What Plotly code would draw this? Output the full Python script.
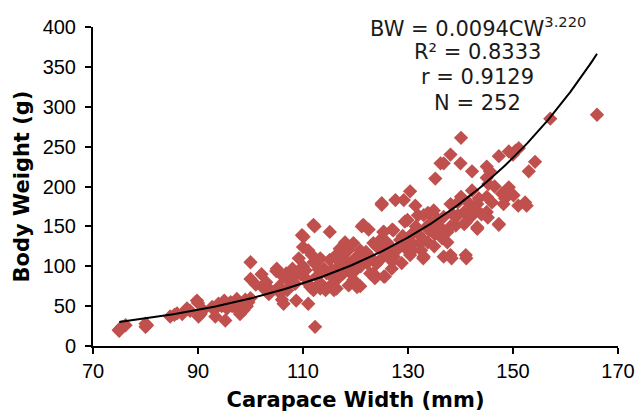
import numpy as np
import plotly.graph_objects as go

# Carapace width (mm) and body weight (g)
CW = [75.0, 75.2, 75.5, 76.2, 74.9, 80.0, 80.0, 80.3, 84.7, 85.5, 86.0, 87.0, 87.9, 88.5,
      89.8, 90.0, 90.1, 90.5, 91.0, 92.7, 93.1, 93.3, 93.9, 94.5, 95.0, 95.2, 95.5, 96.2,
      96.5, 97.4, 97.4, 97.8, 98.2, 98.7, 99.0, 99.3, 99.6, 100.0, 98.0,
      100.0, 100.0, 101.0, 102.1, 102.4, 103.0, 103.8, 103.5,
      104.9, 105.0, 105.7, 106.2, 106.3, 106.0, 106.8, 105.5, 107.5, 107.0, 108.0, 108.5,
      108.7, 109.2, 109.8, 110.0, 110.1, 110.0, 110.5, 110.8, 111.0, 111.4, 111.7, 112.0,
      112.2, 112.3, 112.6, 112.0, 113.3, 113.3, 113.3, 114.3, 114.5, 114.9, 115.1, 115.1,
      115.1, 115.9, 116.4, 116.4, 116.8, 117.7, 117.7, 117.7, 118.4, 118.6, 118.7, 118.7,
      119.6, 119.6, 119.6, 119.9, 120.3, 120.9, 120.9, 121.2, 121.5, 122.2, 122.5, 122.5,
      122.8, 123.4, 123.4, 123.7, 124.7, 124.7, 125.0, 125.0, 125.0, 125.3, 125.4, 125.4,
      125.6, 126.6, 126.9, 127.0, 127.2, 127.3, 127.5, 128.5, 128.8, 128.8, 129.2, 129.4,
      129.9, 129.9, 130.4, 130.4, 130.7, 130.7, 131.0, 131.4, 131.9, 132.3, 132.9, 133.0,
      133.0, 133.6, 133.8, 133.8, 134.9, 135.1, 135.2, 135.4, 135.7, 136.2, 136.8, 136.8,
      136.8, 137.0, 137.5, 138.1, 138.1, 138.1, 138.1, 138.3, 139.1, 139.1, 139.5, 140.0,
      140.1, 140.1, 140.7, 140.7, 141.0, 141.0, 141.1, 142.2, 142.2, 142.5, 142.7, 143.2,
      143.2, 143.2, 145.0, 145.0, 145.0, 145.0, 145.2, 145.3, 145.6, 147.3, 147.3, 147.3,
      147.9, 148.2, 149.2, 149.2, 150.1, 151.0, 151.1, 152.3, 152.6, 153.0, 154.2, 157.1,
      166.0,
      114.0, 115.5, 116.0, 117.0, 118.0, 119.0, 120.0, 121.0, 121.5, 122.0, 123.0, 124.0,
      124.0, 126.0, 126.0, 127.0, 128.0, 129.0, 130.0, 131.0, 131.5, 132.0, 132.5, 133.0,
      134.0, 134.5, 135.0, 136.0, 136.5, 137.5, 138.5, 139.5, 141.5, 142.0, 143.5, 144.0,
      146.0, 146.5, 148.5, 150.0, 150.5, 113.0, 112.0, 111.0, 109.5, 108.0, 107.0, 116.0,
      117.0, 118.0, 111.0, 127.6]
BW = [19, 22, 24, 26, 20, 24, 28, 26, 37, 39, 41, 40, 47, 44,
      57, 54, 37, 40, 45, 49, 45, 37, 53, 50, 57, 32, 47, 55,
      50, 59, 49, 44, 53, 45, 58, 50, 55, 60, 40,
      105, 84, 77, 90, 73, 80, 70, 65,
      94, 97, 66, 87, 53, 58, 91, 75, 80, 70, 85, 78,
      57, 110, 139, 124, 137, 100, 95, 83, 53, 74, 114, 152,
      150, 24, 87, 105, 110, 72, 79, 70, 91, 91, 108, 143,
      75, 70, 83, 72, 100, 114, 91, 96, 120, 120, 104, 76,
      129, 100, 83, 110, 74, 120, 75, 150, 152, 104, 146, 114,
      91, 129, 91, 85, 133, 108, 179, 177, 120, 143, 143, 87,
      87, 125, 97, 146, 145, 112, 118, 133, 104, 127, 183, 156,
      158, 120, 194, 114, 119, 140, 142, 176, 164, 129, 110, 164,
      112, 150, 167, 130, 170, 140, 210, 142, 159, 229, 162, 112,
      229, 143, 143, 150, 240, 178, 114, 110, 162, 151, 164, 229,
      261, 187, 168, 153, 155, 114, 110, 219, 195, 170, 172, 178,
      149, 147, 225, 211, 187, 168, 161, 203, 219, 238, 153, 152,
      191, 178, 244, 199, 189, 176, 248, 180, 176, 219, 231, 285,
      290,
      97, 95, 88, 105, 98, 92, 95, 100, 108, 118, 110, 103,
      125, 115, 130, 106, 122, 138, 130, 128, 150, 140, 120, 133,
      145, 155, 125, 150, 135, 130, 165, 180, 180, 162, 185, 165,
      180, 200, 185, 240, 245, 96, 70, 78, 90, 97, 87, 112,
      122, 130, 120, 183]

# Trendline: BW ≈ A·exp(B·CW), drawn over the data span
TREND_A = 3.814
TREND_B = 0.0275
TREND_RANGE = [75, 166]

X_TICKS = [70, 90, 110, 130, 150, 170]
Y_TICKS = [0, 50, 100, 150, 200, 250, 300, 350, 400]

EQ_LINES = ["BW = 0.0094CW<sup>3.220</sup>", "R² = 0.8333", "r = 0.9129", "N = 252"]
EQ_X = 0.7325
EQ_Y = [1.0, 0.9225, 0.844, 0.7615]

tx = np.linspace(TREND_RANGE[0], TREND_RANGE[1], 200)
ty = TREND_A * np.exp(TREND_B * tx)

fig = go.Figure()
fig.add_trace(go.Scatter(
    x=CW, y=BW, mode="markers",
    marker=dict(symbol="diamond", size=11, color="#C0504D", line=dict(width=0)),
    showlegend=False, cliponaxis=False))
fig.add_trace(go.Scatter(
    x=tx, y=ty, mode="lines", line=dict(color="black", width=2),
    showlegend=False, cliponaxis=False))

for txt, yy in zip(EQ_LINES, EQ_Y):
    fig.add_annotation(x=EQ_X, y=yy, xref="paper", yref="paper", text=txt, showarrow=False,
                       xanchor="center", yanchor="middle",
                       font=dict(family="DejaVu Sans", size=21, color="#1a1a1a"))

tickfont = dict(family="Liberation Sans, Arial", size=20, color="black")
titlefont = dict(family="DejaVu Sans", size=21, color="black", weight="bold")

fig.update_layout(
    width=638, height=413,
    margin=dict(l=93, r=20, t=27, b=67),
    paper_bgcolor="white", plot_bgcolor="white",
    xaxis=dict(range=[70, 170], tickvals=X_TICKS, showgrid=False, zeroline=False,
               showline=True, linecolor="black", linewidth=2, ticks="outside",
               ticklen=6, tickwidth=2, tickcolor="black", tickfont=tickfont,
               automargin=False,
               title=dict(text="Carapace Width (mm)", font=titlefont, standoff=11)),
    yaxis=dict(range=[0, 400], tickvals=Y_TICKS, showgrid=False, zeroline=False,
               showline=True, linecolor="black", linewidth=2, ticks="outside",
               ticklen=6, tickwidth=2, tickcolor="black", tickfont=tickfont,
               ticklabelstandoff=5, automargin=False,
               title=dict(text="Body Weight (g)", font=titlefont, standoff=7)),
)

fig.write_html("out.html", config={"displayModeBar": False},
               post_script="document.body.style.margin='0px';document.body.style.overflow='hidden';")
